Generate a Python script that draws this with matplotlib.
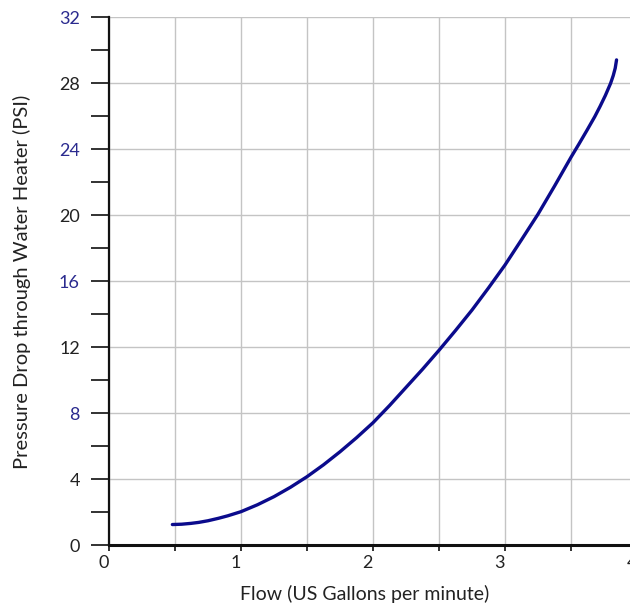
import numpy as np
import matplotlib.pyplot as plt
from matplotlib.ticker import MultipleLocator

# flow (US gpm) vs pressure drop (PSI)
flow = [0.48, 0.55, 0.62, 0.68, 0.75, 0.83, 0.9, 1.0, 1.125, 1.25, 1.375, 1.5, 1.625, 1.75, 1.875,
        2.0, 2.125, 2.25, 2.375, 2.5, 2.625, 2.75, 2.875, 3.0, 3.125, 3.25, 3.375,
        3.5, 3.56, 3.62, 3.68, 3.72, 3.76, 3.80, 3.82, 3.835, 3.845]
psi = [1.24, 1.26, 1.31, 1.37, 1.47, 1.62, 1.77, 2.02, 2.44, 2.93, 3.50, 4.14, 4.86, 5.65, 6.50,
       7.41, 8.45, 9.55, 10.65, 11.80, 13.00, 14.24, 15.58, 16.97, 18.50, 20.05, 21.75,
       23.50, 24.30, 25.12, 25.96, 26.58, 27.24, 27.98, 28.45, 28.90, 29.40]

yticks = [0, 4, 8, 12, 16, 20, 24, 28, 32]
ytick_labels = ['0', '4', '8', '12', '16', '20', '24', '28', '32']
blue_labels = ['8', '16', '24', '32']
xticks = [0, 1, 2, 3, 4]

plt.rcParams['font.family'] = ['Lato', 'DejaVu Sans']

fig = plt.figure(figsize=(6.3, 6.07), dpi=100)
W, H = 630, 607
ax = fig.add_axes([109 / W, (H - 545) / H, (637 - 109) / W, (545 - 17) / H])

ax.plot(flow, psi, color='#0b0b8c', lw=2.4, solid_capstyle='round',
        solid_joinstyle='round')

ax.set_xlim(0, 4)
ax.set_ylim(0, 32)

ax.set_yticks(yticks)
ax.set_yticklabels(ytick_labels)
ax.yaxis.set_minor_locator(MultipleLocator(2))
ax.set_xticks(xticks)
ax.set_xticklabels([str(v) for v in xticks])
ax.xaxis.set_minor_locator(MultipleLocator(0.5))

ax.tick_params(axis='y', which='both', direction='out', length=13, width=1.3,
               color='#222222', pad=8, labelsize=13, labelcolor='#222222')
ax.tick_params(axis='x', which='both', direction='out', length=4.5, width=1.3,
               color='#222222', pad=3, labelsize=13, labelcolor='#222222')
for lab in ax.get_yticklabels():
    if lab.get_text() in blue_labels:
        lab.set_color('#2b2b8f')
for lab in ax.get_xticklabels():
    lab.set_horizontalalignment('right')

ax.grid(True, which='major', axis='y', color='#c4c4c4', lw=1)
ax.grid(True, which='minor', axis='x', color='#c4c4c4', lw=1)
ax.grid(True, which='major', axis='x', color='#c4c4c4', lw=1)

for s in ['top', 'right']:
    ax.spines[s].set_visible(False)
ax.spines['left'].set_linewidth(1.6)
ax.spines['bottom'].set_linewidth(2.2)
ax.spines['left'].set_color('#111111')
ax.spines['bottom'].set_color('#111111')

ax.set_xlabel('Flow (US Gallons per minute)', fontsize=14, color='#222222')
ax.xaxis.set_label_coords((365 - 109) / 528, -0.075)
ax.set_ylabel('Pressure Drop through Water Heater (PSI)', fontsize=14.5, color='#222222')
ax.yaxis.set_label_coords(-0.148, (545 - 282) / 528)

fig.savefig('out.png', dpi=100)
